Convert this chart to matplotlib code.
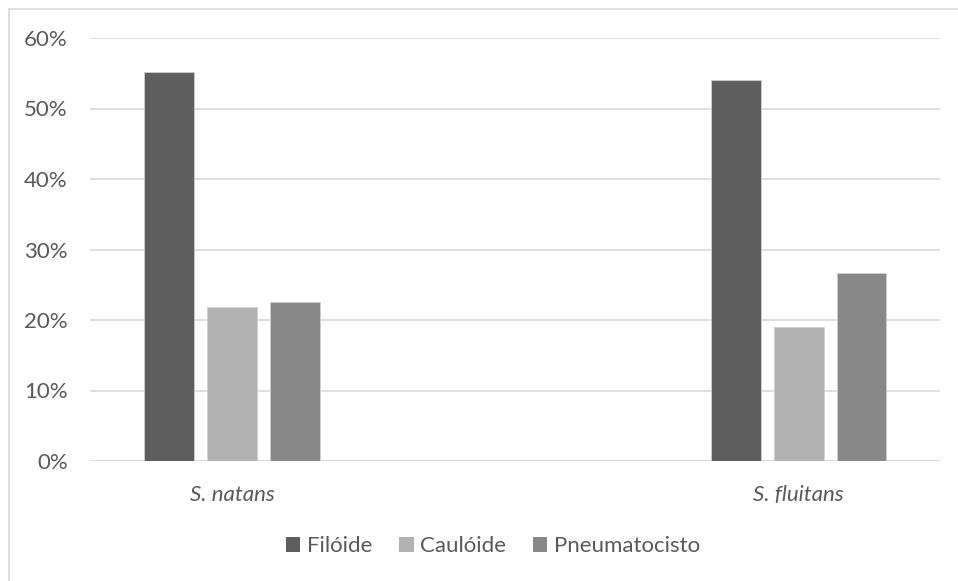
import matplotlib.pyplot as plt
from matplotlib.patches import Patch
from matplotlib.lines import Line2D
from matplotlib.ticker import FuncFormatter

categories = ["S. natans", "S. fluitans"]
series_names = ["Filóide", "Caulóide", "Pneumatocisto"]
filoide = [55.2, 54.0]
cauloide = [21.9, 19.0]
pneumatocisto = [22.6, 26.7]
colors = ["#5e5e5e", "#b2b2b2", "#888888"]

plt.rcParams['font.family'] = ['Lato', 'DejaVu Sans']
text_color = "#595959"
fs = 16

W, H = 958, 581
fig = plt.figure(figsize=(W / 100, H / 100), dpi=100)
ax = fig.add_axes([90 / W, 1 - 461 / H, 850 / W, 423 / H])

x = list(range(len(categories)))
width = 0.0875
pitch = 0.111
for i, (vals, col) in enumerate(zip([filoide, cauloide, pneumatocisto], colors)):
    pos = [xi + (i - 1) * pitch for xi in x]
    ax.bar(pos, vals, width=width, color=col, edgecolor="#d0d0d0", linewidth=0.6,
           label=series_names[i], zorder=3)

ax.set_xlim(-0.2506, 1.2493)
ax.set_ylim(0, 60)
ax.set_yticks(range(0, 61, 10))
ax.yaxis.set_major_formatter(FuncFormatter(lambda v, p: f"{int(v)}%"))
ax.grid(axis='y', color="#d9d9d9", linewidth=1.2, zorder=0)
for s in ax.spines.values():
    s.set_visible(False)
ax.axhline(0, color="#d9d9d9", linewidth=1.4, zorder=2)
ax.tick_params(axis='y', length=0, pad=16, labelsize=fs, labelcolor=text_color)
ax.tick_params(axis='x', length=0, pad=17, labelsize=fs, labelcolor=text_color)
ax.set_xticks(x)
ax.set_xticklabels(categories, fontstyle='italic')

# outer frame (top and left edges visible)
fig.add_artist(Line2D([8.5 / W, 8.5 / W], [0, 1 - 8.5 / H], transform=fig.transFigure,
                      color="#d9d9d9", linewidth=1.2))
fig.add_artist(Line2D([8.5 / W, 1], [1 - 8.5 / H, 1 - 8.5 / H], transform=fig.transFigure,
                      color="#d9d9d9", linewidth=1.2))

handles = [Patch(facecolor=c, edgecolor='none') for c in colors]
fig.legend(handles, series_names, loc='center', bbox_to_anchor=(493 / W, 1 - 546 / H),
           ncol=3, frameon=False, fontsize=fs, labelcolor=text_color,
           handlelength=0.65, handleheight=0.65, handletextpad=0.3,
           columnspacing=1.2)

fig.savefig("out.png", dpi=100)
